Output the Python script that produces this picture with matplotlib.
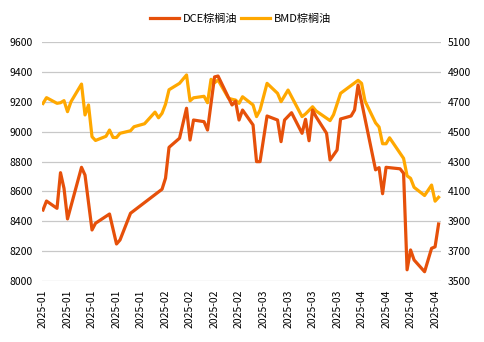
import matplotlib
matplotlib.use("Agg")
from matplotlib import pyplot as plt
import matplotlib.dates as mdates
import pandas as pd

plt.rcParams['font.family'] = ['Noto Sans CJK SC', 'DejaVu Sans']

# DCE palm oil futures (CNY/t), left axis
dce_dates = ["2025-01-02", "2025-01-03", "2025-01-06", "2025-01-07", "2025-01-08", "2025-01-09",
             "2025-01-13", "2025-01-14", "2025-01-16", "2025-01-17", "2025-01-21", "2025-01-23",
             "2025-01-24", "2025-01-27", "2025-02-05", "2025-02-06", "2025-02-07", "2025-02-10",
             "2025-02-12", "2025-02-13", "2025-02-14", "2025-02-17", "2025-02-18", "2025-02-20",
             "2025-02-21", "2025-02-25", "2025-02-26", "2025-02-27", "2025-02-28", "2025-03-03",
             "2025-03-04", "2025-03-05", "2025-03-07", "2025-03-10", "2025-03-11", "2025-03-12",
             "2025-03-14", "2025-03-17", "2025-03-18", "2025-03-19", "2025-03-20", "2025-03-21",
             "2025-03-24", "2025-03-25", "2025-03-27", "2025-03-28", "2025-03-31", "2025-04-01",
             "2025-04-02", "2025-04-07", "2025-04-08", "2025-04-09", "2025-04-10", "2025-04-14",
             "2025-04-15", "2025-04-16", "2025-04-17", "2025-04-18", "2025-04-21", "2025-04-23",
             "2025-04-24", "2025-04-25"]
dce_values = [8476, 8536, 8487, 8726, 8621, 8416,
              8762, 8710, 8342, 8387, 8449, 8248,
              8275, 8454, 8615, 8689, 8896, 8957,
              9158, 8945, 9079, 9068, 9012, 9368,
              9374, 9180, 9205, 9079, 9146, 9046,
              8800, 8800, 9106, 9079, 8934, 9079,
              9128, 8990, 9084, 8940, 9146, 9101,
              8990, 8811, 8878, 9086, 9106, 9146,
              9314, 8745, 8760, 8585, 8762, 8752,
              8722, 8075, 8208, 8141, 8062, 8219,
              8229, 8382]

# BMD palm oil futures (MYR/t), right axis
bmd_dates = ["2025-01-02", "2025-01-03", "2025-01-06", "2025-01-07", "2025-01-08", "2025-01-09",
             "2025-01-10", "2025-01-13", "2025-01-14", "2025-01-15", "2025-01-16", "2025-01-17",
             "2025-01-20", "2025-01-21", "2025-01-22", "2025-01-23", "2025-01-24", "2025-01-27",
             "2025-01-28", "2025-01-31", "2025-02-03", "2025-02-04", "2025-02-05", "2025-02-06",
             "2025-02-07", "2025-02-10", "2025-02-12", "2025-02-13", "2025-02-14", "2025-02-17",
             "2025-02-18", "2025-02-19", "2025-02-20", "2025-02-21", "2025-02-24", "2025-02-25",
             "2025-02-26", "2025-02-27", "2025-02-28", "2025-03-03", "2025-03-04", "2025-03-05",
             "2025-03-07", "2025-03-10", "2025-03-11", "2025-03-13", "2025-03-17", "2025-03-18",
             "2025-03-20", "2025-03-21", "2025-03-25", "2025-03-26", "2025-03-28", "2025-04-02",
             "2025-04-03", "2025-04-04", "2025-04-07", "2025-04-08", "2025-04-09", "2025-04-10",
             "2025-04-11", "2025-04-15", "2025-04-16", "2025-04-17", "2025-04-18", "2025-04-21",
             "2025-04-23", "2025-04-24", "2025-04-25"]
bmd_values = [4690, 4729, 4691, 4695, 4709, 4635,
              4702, 4820, 4613, 4680, 4467, 4442,
              4470, 4512, 4462, 4462, 4490, 4507,
              4534, 4554, 4632, 4594, 4624, 4685,
              4782, 4825, 4881, 4708, 4728, 4738,
              4695, 4852, 4829, 4847, 4725, 4718,
              4713, 4691, 4735, 4680, 4602, 4646,
              4825, 4758, 4702, 4780, 4602, 4620,
              4668, 4640, 4575, 4615, 4758, 4845,
              4825, 4705, 4560, 4532, 4420, 4420,
              4460, 4322, 4205, 4188, 4128, 4073,
              4143, 4035, 4061]

dce_label = "DCE棕榈油"
bmd_label = "BMD棕榈油"
dce_color = "#E6500A"
bmd_color = "#FFA800"


def main():
    dce_x = pd.to_datetime(dce_dates)
    bmd_x = pd.to_datetime(bmd_dates)

    fig = plt.figure(figsize=(4.84, 3.42), dpi=100)
    fig.patch.set_facecolor("white")
    ax1 = fig.add_axes([0.0874, 0.1784, 0.8231, 0.6979])
    ax2 = ax1.twinx()
    # DCE line sits above the BMD line
    ax1.set_zorder(ax2.get_zorder() + 1)
    ax1.patch.set_visible(False)

    line1, = ax1.plot(dce_x, dce_values, color=dce_color, lw=2.3, label=dce_label,
                      solid_joinstyle="round")
    line2, = ax2.plot(bmd_x, bmd_values, color=bmd_color, lw=2.3, label=bmd_label,
                      solid_joinstyle="round")

    ax1.set_ylim(8000, 9600)
    ax1.set_yticks(range(8000, 9601, 200))
    ax2.set_ylim(3500, 5100)
    ax2.set_yticks(range(3500, 5101, 200))

    start = pd.Timestamp("2025-01-02")
    end = pd.Timestamp("2025-04-25")
    ax1.set_xlim(mdates.date2num(start) - 0.2, mdates.date2num(end) + 0.6)
    ticks = pd.date_range("2025-01-02", "2025-04-24", freq="7D")
    ax1.set_xticks(mdates.date2num(ticks))
    ax1.xaxis.set_major_formatter(mdates.DateFormatter("%Y-%m"))
    for lbl in ax1.get_xticklabels():
        lbl.set_rotation(90)

    # gridlines live on the lower axes so both lines cover them
    ax2.grid(axis="y", color="#C8C8C8", lw=0.9)
    ax2.set_axisbelow(True)
    for ax in (ax1, ax2):
        for s in ax.spines.values():
            s.set_visible(False)
        ax.tick_params(length=0, labelsize=7.5, colors="black")
    ax1.tick_params(axis="y", pad=7)
    ax2.tick_params(axis="y", pad=5)
    ax1.tick_params(axis="x", pad=6)

    fig.legend(handles=[line1, line2], loc="center", bbox_to_anchor=(0.497, 0.944),
               ncol=2, frameon=False, fontsize=8, handlelength=2.6,
               handletextpad=0.3, columnspacing=0.4)

    fig.savefig("out.png", dpi=100, facecolor="white")


if __name__ == "__main__":
    main()
